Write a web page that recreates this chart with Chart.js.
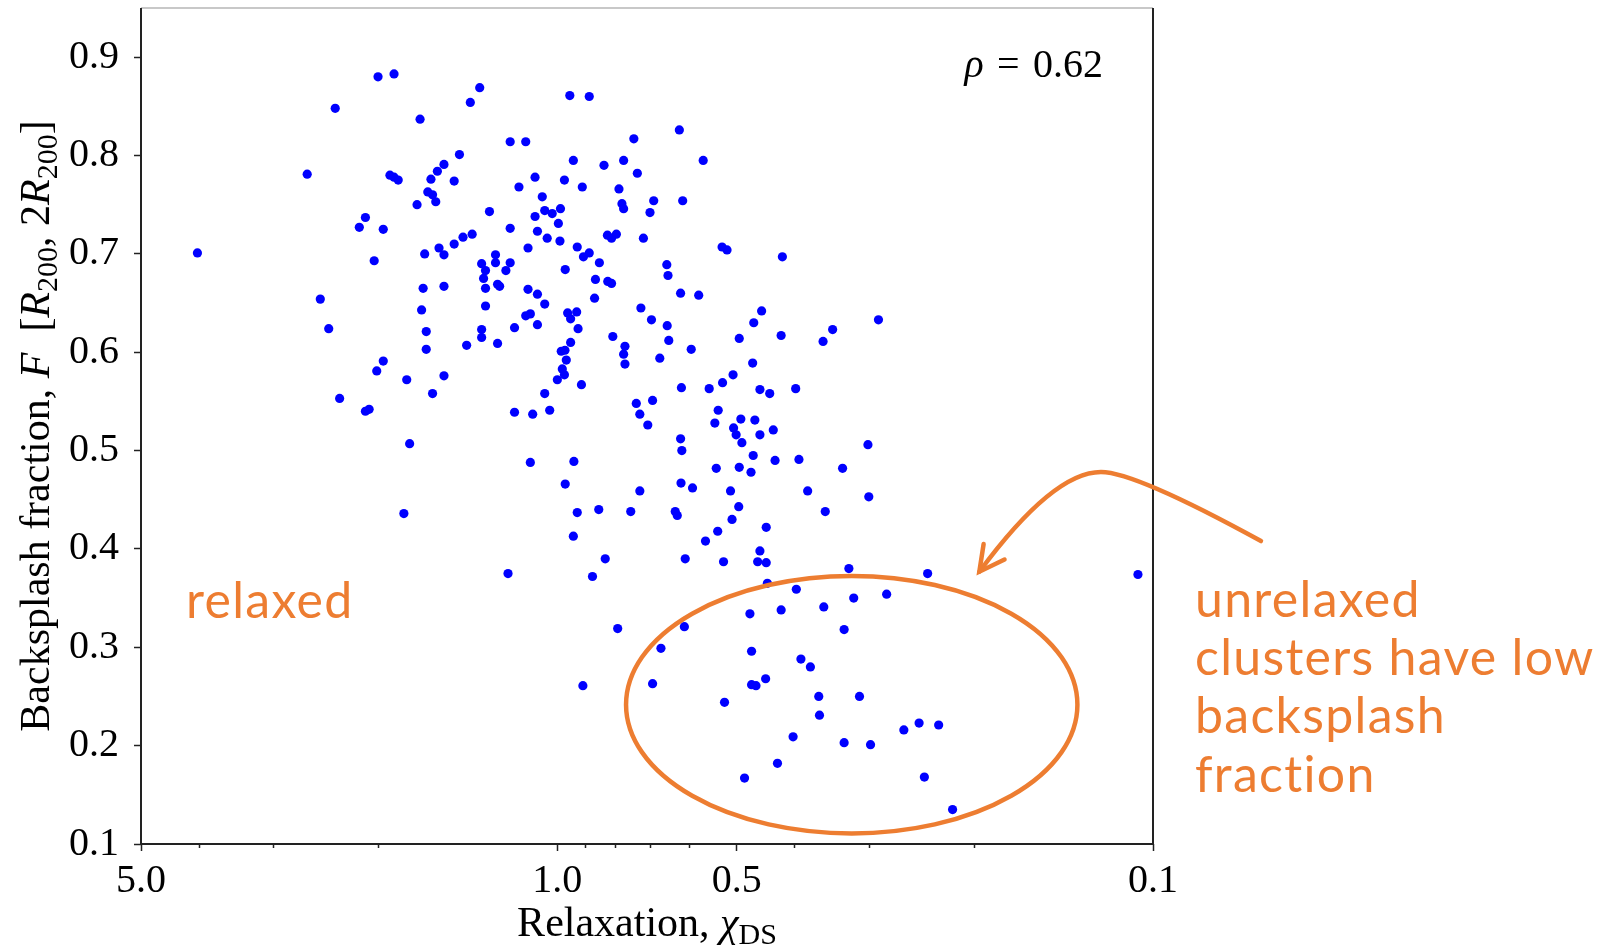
<!DOCTYPE html>
<html>
<head>
<meta charset="utf-8">
<title>Backsplash fraction vs relaxation</title>
<script src="https://cdn.jsdelivr.net/npm/chart.js@4.4.1/dist/chart.umd.min.js"></script>
<style>
  html, body { margin: 0; padding: 0; background: #fff; }
  #wrap { width: 1599px; height: 947px; }
</style>
</head>
<body>
<div id="wrap"><canvas id="scatter" width="1599" height="947"></canvas></div>
<script>
// Relaxation chi_DS for each cluster (log axis, reversed)
const relaxation = [
  2.00, 1.88, 1.35, 2.36, 1.40, 1.70, 1.46, 1.55, 1.59, 1.63,
  1.49, 2.63, 1.91, 1.88, 1.85, 1.65, 1.62, 1.60, 1.72, 2.10,
  2.15, 1.96, 1.39, 1.44, 1.49, 1.58, 1.55, 1.67, 4.02, 2.03,
  1.68, 1.55, 2.50, 0.953, 0.884, 0.624, 0.744, 1.20, 1.13, 0.940,
  0.835, 0.774, 0.569, 0.734, 1.09, 0.973, 1.16, 0.908, 0.788, 1.06,
  0.689, 0.616, 0.779, 0.774, 1.30, 1.05, 1.02, 0.988, 1.09, 0.996,
  0.699, 1.20, 1.08, 1.04, 0.990, 0.824, 0.811, 0.796, 0.717, 1.12,
  0.926, 0.904, 0.884, 0.850, 0.529, 0.519, 0.419, 1.27, 1.34, 1.27,
  1.20, 1.32, 1.22, 0.970, 0.655, 0.652, 1.33, 1.32, 1.26, 1.25,
  1.12, 1.08, 0.863, 0.823, 0.811, 0.621, 0.579, 0.866, 1.69, 2.42,
  1.66, 1.34, 1.34, 1.66, 1.42, 1.96, 2.01, 1.79, 1.55, 1.62,
  2.32, 2.10, 2.07, 1.77, 1.81, 1.32, 1.05, 1.13, 1.11, 0.961,
  0.928, 0.950, 0.724, 0.695, 0.654, 0.454, 0.468, 0.421, 1.18, 1.08,
  0.923, 1.26, 0.950, 0.807, 0.650, 0.495, 0.770, 0.774, 0.770, 0.985,
  0.971, 0.966, 0.981, 0.973, 1.00, 0.673, 0.596, 0.470, 0.507, 0.528,
  0.556, 0.619, 0.457, 0.440, 0.398, 0.911, 1.05, 0.737, 0.692, 0.727,
  0.705, 1.18, 1.10, 1.03, 0.537, 0.544, 0.492, 0.466, 0.506, 0.501,
  0.490, 0.457, 0.434, 0.621, 0.618, 0.469, 0.495, 0.473, 0.541, 0.431,
  0.393, 1.11, 0.938, 0.970, 0.620, 0.593, 0.512, 0.380, 0.727, 0.496,
  0.509, 0.446, 0.538, 0.564, 0.926, 0.852, 0.753, 0.634, 0.629, 0.940,
  0.457, 0.461, 0.446, 0.831, 0.610, 0.526, 1.21, 0.873, 0.358, 0.345,
  0.289, 0.301, 0.332, 0.300, 0.355, 0.324, 0.239, 0.106, 0.444, 0.397,
  0.475, 0.421, 0.357, 0.792, 0.612, 0.670, 0.472, 0.390, 0.376, 0.906,
  0.692, 0.472, 0.464, 0.447, 0.524, 0.364, 0.363, 0.402, 0.427, 0.485,
  0.318, 0.280, 0.330, 0.311, 0.262, 0.247, 0.229, 0.330, 0.298, 0.242,
  0.217
];

// Backsplash fraction F between R200 and 2R200, same order as above
const backsplash = [
  0.880, 0.883, 0.869, 0.848, 0.854, 0.837, 0.801, 0.791, 0.784, 0.776,
  0.774, 0.781, 0.780, 0.778, 0.775, 0.763, 0.760, 0.753, 0.750, 0.737,
  0.727, 0.725, 0.720, 0.717, 0.710, 0.706, 0.699, 0.700, 0.701, 0.693,
  0.665, 0.667, 0.654, 0.861, 0.860, 0.826, 0.817, 0.814, 0.814, 0.795,
  0.790, 0.795, 0.795, 0.782, 0.778, 0.775, 0.768, 0.768, 0.766, 0.758,
  0.754, 0.754, 0.751, 0.746, 0.743, 0.744, 0.741, 0.746, 0.738, 0.731,
  0.742, 0.726, 0.723, 0.716, 0.713, 0.719, 0.716, 0.720, 0.716, 0.706,
  0.707, 0.697, 0.701, 0.691, 0.707, 0.704, 0.697, 0.699, 0.690, 0.691,
  0.691, 0.683, 0.683, 0.684, 0.689, 0.678, 0.675, 0.665, 0.669, 0.667,
  0.664, 0.659, 0.674, 0.672, 0.670, 0.660, 0.658, 0.655, 0.643, 0.624,
  0.621, 0.623, 0.615, 0.603, 0.607, 0.591, 0.581, 0.572, 0.576, 0.558,
  0.553, 0.540, 0.542, 0.507, 0.436, 0.647, 0.649, 0.637, 0.639, 0.640,
  0.641, 0.634, 0.645, 0.633, 0.627, 0.642, 0.630, 0.617, 0.625, 0.628,
  0.624, 0.609, 0.610, 0.616, 0.612, 0.614, 0.606, 0.598, 0.588, 0.601,
  0.602, 0.592, 0.583, 0.577, 0.572, 0.594, 0.603, 0.589, 0.577, 0.569,
  0.563, 0.564, 0.562, 0.558, 0.563, 0.567, 0.558, 0.548, 0.551, 0.537,
  0.526, 0.539, 0.537, 0.541, 0.541, 0.528, 0.532, 0.531, 0.523, 0.516,
  0.508, 0.516, 0.521, 0.512, 0.500, 0.495, 0.483, 0.478, 0.482, 0.490,
  0.491, 0.488, 0.489, 0.466, 0.467, 0.462, 0.459, 0.459, 0.459, 0.443,
  0.430, 0.422, 0.418, 0.408, 0.437, 0.440, 0.438, 0.438, 0.434, 0.413,
  0.398, 0.387, 0.386, 0.390, 0.390, 0.387, 0.375, 0.372, 0.611, 0.623,
  0.633, 0.506, 0.482, 0.453, 0.438, 0.380, 0.375, 0.374, 0.365, 0.359,
  0.334, 0.338, 0.341, 0.319, 0.321, 0.299, 0.296, 0.288, 0.280, 0.261,
  0.263, 0.262, 0.261, 0.268, 0.244, 0.250, 0.231, 0.209, 0.182, 0.167,
  0.350, 0.354, 0.318, 0.250, 0.216, 0.223, 0.221, 0.203, 0.201, 0.168,
  0.135
];

const xTickValues = [5, 4, 3, 2, 1, 0.9, 0.8, 0.7, 0.6, 0.5, 0.4, 0.3, 0.2, 0.1];
const xTickLabels = { '5': '5.0', '1': '1.0', '0.5': '0.5', '0.1': '0.1' };
const yTickValues = [0.1, 0.2, 0.3, 0.4, 0.5, 0.6, 0.7, 0.8, 0.9];
const correlation = '0.62';
const unrelaxedNote = ['unrelaxed', 'clusters have low', 'backsplash', 'fraction'];

const ORANGE = '#ed7d31';
const SERIF = '"Liberation Serif", "DejaVu Serif", serif';
const SANS = 'Lato, "Open Sans", sans-serif';
const TICK_SIZE = 40;

const points = relaxation.map((x, i) => ({ x: x, y: backsplash[i] }));

// pieces of text in different styles drawn one after another
function drawRuns(ctx, runs, x, y, align) {
  let total = 0;
  runs.forEach(r => { ctx.font = r.font; total += ctx.measureText(r.text).width; });
  let cx = x;
  if (align === 'center') cx = x - total / 2;
  if (align === 'right') cx = x - total;
  ctx.textAlign = 'left';
  ctx.textBaseline = 'alphabetic';
  runs.forEach(r => {
    ctx.font = r.font;
    ctx.fillText(r.text, cx, y + (r.dy || 0));
    cx += ctx.measureText(r.text).width;
  });
}

const roman = (t) => ({ text: t, font: '42px ' + SERIF });
const italic = (t) => ({ text: t, font: 'italic 42px ' + SERIF });
const sub = (t) => ({ text: t, font: '30px ' + SERIF, dy: 8 });

// frame, minor ticks, axis titles and the orange notes
const decorations = {
  id: 'decorations',
  afterDraw(chart) {
    const ctx = chart.ctx;
    const { left, right, top, bottom } = chart.chartArea;
    const xs = chart.scales.x;
    const w = right - left, h = bottom - top;
    const ax = (fx, fy) => [left + fx * w, top + fy * h];

    ctx.save();

    // axes box
    ctx.lineWidth = 2;
    ctx.strokeStyle = '#c8c8c8';
    ctx.beginPath(); ctx.moveTo(left, top); ctx.lineTo(right, top); ctx.stroke();
    ctx.strokeStyle = '#222';
    ctx.beginPath();
    ctx.moveTo(left, top); ctx.lineTo(left, bottom); ctx.lineTo(right, bottom); ctx.lineTo(right, top);
    ctx.stroke();

    // short unlabeled ticks on the log axis
    ctx.lineWidth = 1.5;
    xTickValues.filter(v => !xTickLabels[String(v)]).forEach(v => {
      const px = Math.round(xs.getPixelForValue(v)) + 0.5;
      ctx.beginPath(); ctx.moveTo(px, bottom); ctx.lineTo(px, bottom + 4); ctx.stroke();
    });

    // axis titles
    ctx.fillStyle = '#000';
    drawRuns(ctx, [roman('Relaxation, '), italic('\u03c7'), sub('DS')], (left + right) / 2, 936, 'center');

    ctx.save();
    ctx.translate(49, (top + bottom) / 2);
    ctx.rotate(-Math.PI / 2);
    drawRuns(ctx, [
      roman('Backsplash fraction, '), italic('F'), roman('  ['),
      italic('R'), sub('200'), roman(', 2'), italic('R'), sub('200'), roman(']')
    ], 0, 0, 'center');
    ctx.restore();

    // correlation coefficient
    const [rx, ry] = ax(0.9506, 0.0829);
    drawRuns(ctx, [
      { text: '\u03c1', font: 'italic 40px ' + SERIF },
      { text: ' \u200a=\u200a ' + correlation, font: '40px ' + SERIF }
    ], rx, ry, 'right');

    // orange notes
    ctx.fillStyle = ORANGE;
    ctx.font = '50px ' + SANS;
    ctx.letterSpacing = '1.3px';
    ctx.textAlign = 'left';
    ctx.textBaseline = 'alphabetic';
    const [lx, ly] = ax(0.0445, 0.7293);
    ctx.fillText('relaxed', lx, ly);
    const [ux, uy] = ax(1.0415, 0.7281);
    unrelaxedNote.forEach((line, i) => ctx.fillText(line, ux, uy + i * 58.3));
    ctx.letterSpacing = '0px';

    // ellipse round the low clusters
    ctx.strokeStyle = ORANGE;
    ctx.lineWidth = 4.5;
    const [ex, ey] = ax(0.7023, 0.8334);
    ctx.beginPath();
    ctx.ellipse(ex, ey, 0.223 * w, 0.154 * h, 0, 0, Math.PI * 2);
    ctx.stroke();

    // curved arrow from the note to the ellipse
    const p0 = ax(1.1067, 0.6376);
    const c1 = ax(0.9822, 0.555);
    const p1 = ax(0.9486, 0.555);
    const c2 = ax(0.9012, 0.555);
    const tip = ax(0.8284, 0.6743);
    ctx.lineCap = 'round';
    ctx.beginPath();
    ctx.moveTo(p0[0], p0[1]);
    ctx.quadraticCurveTo(c1[0], c1[1], p1[0], p1[1]);
    ctx.quadraticCurveTo(c2[0], c2[1], tip[0], tip[1]);
    ctx.stroke();
    const ang = Math.atan2(tip[1] - c2[1], tip[0] - c2[0]);
    const head = 28, spread = Math.PI / 6.5;
    ctx.beginPath();
    ctx.moveTo(tip[0] - head * Math.cos(ang - spread), tip[1] - head * Math.sin(ang - spread));
    ctx.lineTo(tip[0], tip[1]);
    ctx.lineTo(tip[0] - head * Math.cos(ang + spread), tip[1] - head * Math.sin(ang + spread));
    ctx.stroke();

    ctx.restore();
  }
};

new Chart(document.getElementById('scatter'), {
  type: 'scatter',
  data: {
    datasets: [{
      data: points,
      pointRadius: 4.6,
      pointHoverRadius: 4.6,
      pointBackgroundColor: '#0000ff',
      pointBorderWidth: 0
    }]
  },
  options: {
    responsive: false,
    animation: false,
    events: [],
    layout: { padding: { top: 8, right: 446, left: 0, bottom: 0 } },
    plugins: { legend: { display: false }, tooltip: { enabled: false } },
    scales: {
      x: {
        type: 'logarithmic',
        reverse: true,
        min: 0.1,
        max: 5,
        afterBuildTicks: scale => { scale.ticks = xTickValues.map(v => ({ value: v })); },
        afterFit: scale => {
          scale.height = 103;
          scale.paddingLeft = 0;
          scale.paddingRight = 0;
        },
        border: { display: false },
        grid: {
          drawOnChartArea: false,
          tickLength: 7,
          tickWidth: 1.5,
          tickColor: c => (c.tick && xTickLabels[String(c.tick.value)]) ? '#222' : 'rgba(0,0,0,0)'
        },
        ticks: {
          autoSkip: false,
          maxRotation: 0,
          padding: 6,
          color: '#000',
          font: { family: SERIF, size: TICK_SIZE },
          callback: v => xTickLabels[String(v)] || ''
        }
      },
      y: {
        min: 0.1,
        max: 0.95,
        afterBuildTicks: scale => { scale.ticks = yTickValues.map(v => ({ value: v })); },
        afterFit: scale => {
          scale.width = 141;
          scale.paddingTop = 0;
          scale.paddingBottom = 0;
        },
        border: { display: false },
        grid: { drawOnChartArea: false, tickLength: 7, tickWidth: 1.5, tickColor: '#222' },
        ticks: {
          padding: 15,
          color: '#000',
          font: { family: SERIF, size: TICK_SIZE },
          callback: v => v.toFixed(1)
        }
      }
    }
  },
  plugins: [decorations]
});
</script>
</body>
</html>
